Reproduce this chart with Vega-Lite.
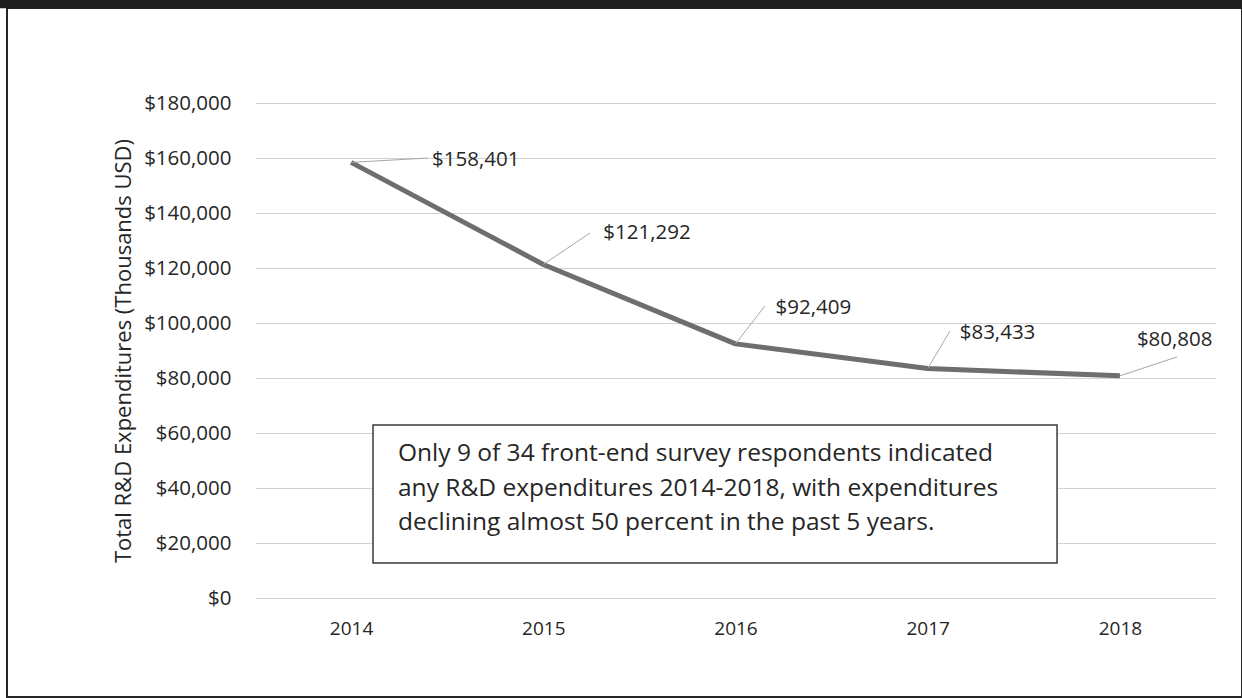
{
  "$schema": "https://vega.github.io/schema/vega-lite/v6.json",
  "autosize": "none",
  "padding": {"left": 7, "top": 8, "right": 0, "bottom": 1},
  "width": 1235,
  "height": 689,
  "background": "#ffffff",
  "config": {
    "view": {"stroke": "#262626", "strokeWidth": 2, "fill": "#ffffff"},
    "font": "Open Sans",
    "text": {"font": "Open Sans", "color": "#262626"}
  },
  "data": {"values": [
    {"year": 2014, "value": 158401},
    {"year": 2015, "value": 121292},
    {"year": 2016, "value": 92409},
    {"year": 2017, "value": 83433},
    {"year": 2018, "value": 80808}
  ]},
  "layer": [
    {
      "mark": {"type": "line", "color": "#6e6e6e", "strokeWidth": 5, "strokeCap": "butt", "strokeJoin": "round"},
      "encoding": {
        "x": {"field": "year", "type": "quantitative",
          "scale": {"domain": [2013.5, 2018.5], "range": [248, 1209], "nice": false, "zero": false},
          "axis": {"orient": "bottom", "offset": -99, "values": [2014, 2015, 2016, 2017, 2018], "format": "d",
            "title": null, "grid": false, "ticks": false, "domain": false, "labelPadding": 21,
            "labelFont": "Open Sans", "labelFontSize": 19, "labelColor": "#262626"}},
        "y": {"field": "value", "type": "quantitative",
          "scale": {"domain": [0, 180000], "range": [590, 95], "nice": false, "zero": true},
          "axis": {"orient": "left", "offset": -248, "values": [0, 20000, 40000, 60000, 80000, 100000, 120000, 140000, 160000, 180000],
            "format": "$,.0f", "ticks": false, "domain": false, "labelPadding": 24,
            "labelFont": "Open Sans", "labelFontSize": 20.5, "labelColor": "#262626",
            "grid": true, "gridColor": "#d2d2d2", "gridWidth": 1,
            "title": "Total R&D Expenditures (Thousands USD)", "titleFont": "Open Sans", "titleFontSize": 22,
            "titleFontWeight": "normal", "titleColor": "#262626", "titlePadding": 8}}
      }
    },
    {
      "data": {"values": [{"band": "top"}]},
      "mark": {"type": "rect", "color": "#1f1f1f"},
      "encoding": {
        "x": {"datum": 2012.1, "type": "quantitative"},
        "x2": {"datum": 2018.8},
        "y": {"datum": 214500, "type": "quantitative"},
        "y2": {"datum": 219000}
      }
    },
    {
      "transform": [{"filter": "datum.year == 2014"}],
      "layer": [
        {"mark": {"type": "rule", "color": "#a6a6a6", "strokeWidth": 1},
         "encoding": {"x": {"field": "year", "type": "quantitative"}, "y": {"field": "value", "type": "quantitative"},
           "x2": {"datum": 2014.40}, "y2": {"datum": 160000}}},
        {"mark": {"type": "text", "align": "left", "baseline": "middle", "dx": 81, "dy": -2, "fontSize": 20.5},
         "encoding": {"x": {"field": "year", "type": "quantitative"}, "y": {"field": "value", "type": "quantitative"},
           "text": {"field": "value", "type": "quantitative", "format": "$,.0f"}}}
      ]
    },
    {
      "transform": [{"filter": "datum.year == 2015"}],
      "layer": [
        {"mark": {"type": "rule", "color": "#a6a6a6", "strokeWidth": 1},
         "encoding": {"x": {"field": "year", "type": "quantitative"}, "y": {"field": "value", "type": "quantitative"},
           "x2": {"datum": 2015.243}, "y2": {"datum": 132727}}},
        {"mark": {"type": "text", "align": "left", "baseline": "middle", "dx": 60, "dy": -31, "fontSize": 20.5},
         "encoding": {"x": {"field": "year", "type": "quantitative"}, "y": {"field": "value", "type": "quantitative"},
           "text": {"field": "value", "type": "quantitative", "format": "$,.0f"}}}
      ]
    },
    {
      "transform": [{"filter": "datum.year == 2016"}],
      "layer": [
        {"mark": {"type": "rule", "color": "#a6a6a6", "strokeWidth": 1},
         "encoding": {"x": {"field": "year", "type": "quantitative"}, "y": {"field": "value", "type": "quantitative"},
           "x2": {"datum": 2016.153}, "y2": {"datum": 106182}}},
        {"mark": {"type": "text", "align": "left", "baseline": "middle", "dx": 40, "dy": -36, "fontSize": 20.5},
         "encoding": {"x": {"field": "year", "type": "quantitative"}, "y": {"field": "value", "type": "quantitative"},
           "text": {"field": "value", "type": "quantitative", "format": "$,.0f"}}}
      ]
    },
    {
      "transform": [{"filter": "datum.year == 2017"}],
      "layer": [
        {"mark": {"type": "rule", "color": "#a6a6a6", "strokeWidth": 1},
         "encoding": {"x": {"field": "year", "type": "quantitative"}, "y": {"field": "value", "type": "quantitative"},
           "x2": {"datum": 2017.116}, "y2": {"datum": 97091}}},
        {"mark": {"type": "text", "align": "left", "baseline": "middle", "dx": 32, "dy": -36, "fontSize": 20.5},
         "encoding": {"x": {"field": "year", "type": "quantitative"}, "y": {"field": "value", "type": "quantitative"},
           "text": {"field": "value", "type": "quantitative", "format": "$,.0f"}}}
      ]
    },
    {
      "transform": [{"filter": "datum.year == 2018"}],
      "layer": [
        {"mark": {"type": "rule", "color": "#a6a6a6", "strokeWidth": 1},
         "encoding": {"x": {"field": "year", "type": "quantitative"}, "y": {"field": "value", "type": "quantitative"},
           "x2": {"datum": 2018.297}, "y2": {"datum": 87636}}},
        {"mark": {"type": "text", "align": "left", "baseline": "middle", "dx": 17, "dy": -36, "fontSize": 20.5},
         "encoding": {"x": {"field": "year", "type": "quantitative"}, "y": {"field": "value", "type": "quantitative"},
           "text": {"field": "value", "type": "quantitative", "format": "$,.0f"}}}
      ]
    },
    {
      "data": {"values": [{"note": "box"}]},
      "layer": [
        {"mark": {"type": "rect", "fill": "#ffffff", "stroke": "#3a3a3a", "strokeWidth": 1.5},
         "encoding": {"x": {"datum": 2014.114, "type": "quantitative"}, "x2": {"datum": 2017.673},
           "y": {"datum": 62909, "type": "quantitative"}, "y2": {"datum": 12727}}},
        {"mark": {"type": "text", "align": "left", "baseline": "top", "fontSize": 24.5, "lineHeight": 34.5,
           "text": ["Only 9 of 34 front-end survey respondents indicated", "any R&D expenditures 2014-2018, with expenditures", "declining almost 50 percent in the past 5 years."]},
         "encoding": {"x": {"datum": 2014.244, "type": "quantitative"}, "y": {"datum": 56700, "type": "quantitative"}}}
      ]
    }
  ]
}
